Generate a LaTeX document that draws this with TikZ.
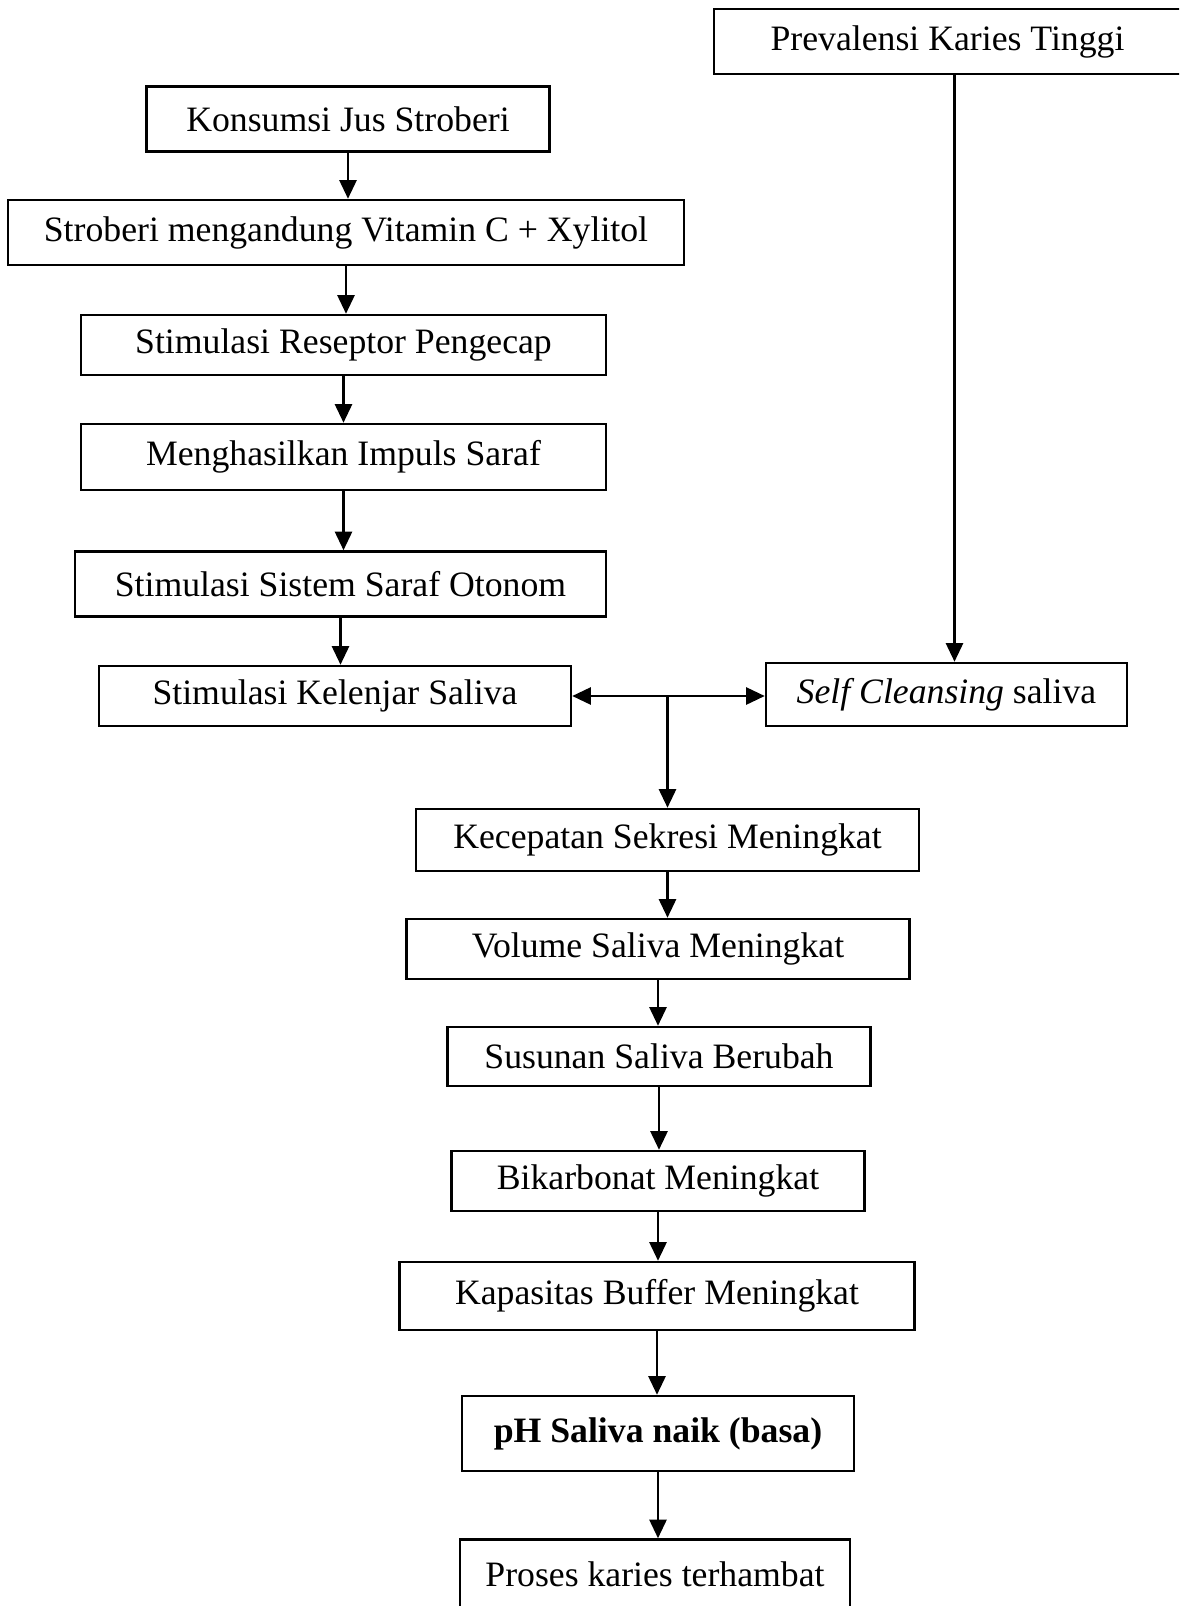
\documentclass[tikz,border=0pt]{standalone}
\usepackage{fontspec}
\setmainfont{Liberation Serif}
\usetikzlibrary{arrows.meta, positioning, calc}
\newcommand{\pxl}{0.35pt}
\tikzstyle{box} = [draw, line width=0.9pt, inner sep=0pt, align=center, font=\fontsize{12.5}{14}\selectfont]
\tikzstyle{arrow} = [line width=0.75pt, ->, >={Triangle[length=6.5pt, width=6pt]}]

\begin{document}
\begin{tikzpicture}[x=0.35pt, y=-0.35pt]
\clip (0,0) rectangle (1179,1606);
% left column
\node[box, minimum width=403*\pxl, minimum height=65*\pxl] (konsumsi) at (348,119) {Konsumsi Jus Stroberi};
\node[box, minimum width=676*\pxl, minimum height=65*\pxl] (stroberi) at (346,232.5) {Stroberi mengandung Vitamin C + Xylitol};
\node[box, minimum width=525*\pxl, minimum height=60*\pxl] (reseptor) at (343.5,345) {Stimulasi Reseptor Pengecap};
\node[box, minimum width=525*\pxl, minimum height=66*\pxl] (impuls) at (343.5,457) {Menghasilkan Impuls Saraf};
\node[box, minimum width=531*\pxl, minimum height=65*\pxl] (otonom) at (340.5,584) {Stimulasi Sistem Saraf Otonom};
\node[box, minimum width=472*\pxl, minimum height=60*\pxl] (kelenjar) at (335,696) {Stimulasi Kelenjar Saliva};
% right column
\node[box, minimum width=467*\pxl, minimum height=65*\pxl] (prevalensi) at (947.5,41.5) {Prevalensi Karies Tinggi};
\node[box, minimum width=361*\pxl, minimum height=63*\pxl] (cleansing) at (946.5,694.5) {\textit{Self Cleansing} saliva};
% lower column
\node[box, minimum width=503*\pxl, minimum height=62*\pxl] (kecepatan) at (667.5,840) {Kecepatan Sekresi Meningkat};
\node[box, minimum width=503*\pxl, minimum height=60*\pxl] (volume) at (658,949) {Volume Saliva Meningkat};
\node[box, minimum width=423*\pxl, minimum height=59*\pxl] (susunan) at (659,1056.5) {Susunan Saliva Berubah};
\node[box, minimum width=413*\pxl, minimum height=60*\pxl] (bikarbonat) at (658,1181) {Bikarbonat Meningkat};
\node[box, minimum width=515*\pxl, minimum height=68*\pxl] (buffer) at (657,1296) {Kapasitas Buffer Meningkat};
\node[box, minimum width=392*\pxl, minimum height=75*\pxl] (ph) at (658,1433.5) {\textbf{pH Saliva naik (basa)}};
\node[box, minimum width=390*\pxl, minimum height=70*\pxl] (proses) at (655,1574.5) {Proses karies terhambat};

\draw[arrow] (konsumsi.south) -- (konsumsi.south |- stroberi.north);
\draw[arrow] (stroberi.south) -- (stroberi.south |- reseptor.north);
\draw[arrow] (reseptor.south) -- (reseptor.south |- impuls.north);
\draw[arrow] (impuls.south) -- (impuls.south |- otonom.north);
\draw[arrow] (otonom.south) -- (otonom.south |- kelenjar.north);
\coordinate (turun) at ($(prevalensi.south)+(7,0)$);
\draw[arrow] (turun) -- (turun |- cleansing.north);
\draw[arrow, <->] (kelenjar.east) -- (kelenjar.east -| cleansing.west);
\coordinate (cabang) at (kecepatan.north |- kelenjar.east);
\draw[arrow] (cabang) -- (kecepatan.north);
\draw[arrow] (kecepatan.south) -- (kecepatan.south |- volume.north);
\draw[arrow] (volume.south) -- (volume.south |- susunan.north);
\draw[arrow] (susunan.south) -- (susunan.south |- bikarbonat.north);
\draw[arrow] (bikarbonat.south) -- (bikarbonat.south |- buffer.north);
\draw[arrow] (buffer.south) -- (buffer.south |- ph.north);
\draw[arrow] (ph.south) -- (ph.south |- proses.north);
\end{tikzpicture}
\end{document}
